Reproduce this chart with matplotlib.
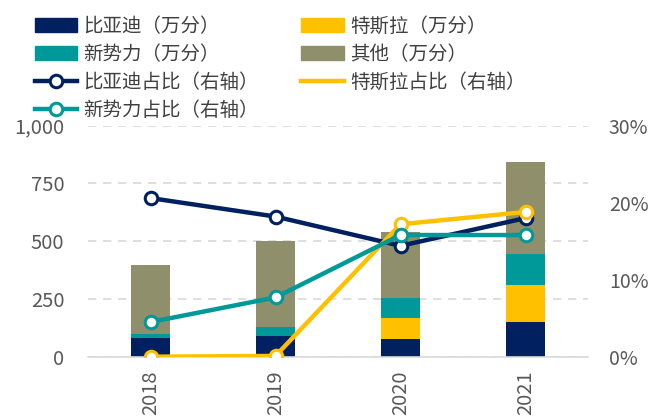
import numpy as np
import matplotlib
matplotlib.use('Agg')
import matplotlib.pyplot as plt
from matplotlib.patches import Patch
from matplotlib.lines import Line2D

plt.rcParams['font.family'] = ['Noto Sans CJK SC', 'DejaVu Sans']

# ── Data ───────────────────────────────────────────────────
years = ['2018', '2019', '2020', '2021']
byd = [80, 91, 75, 150]          # 万分
tesla = [0, 0, 92, 159]
newforce = [20, 39, 87, 134]
other = [297, 372, 286, 398]
byd_share = [20.6, 18.2, 14.4, 18.0]   # %
tesla_share = [0.0, 0.1, 17.2, 18.8]
newforce_share = [4.5, 7.7, 15.8, 15.8]

C_BYD = '#002060'
C_TSLA = '#FFC000'
C_NEW = '#009999'
C_OTH = '#8F8F6B'
TXT = '#595959'

fig = plt.figure(figsize=(6.53, 4.19), dpi=100)
ax = fig.add_axes([88 / 653, 1 - 356.7 / 419, 500 / 653, 231 / 419])
ax2 = ax.twinx()

x = np.arange(len(years))
w = 0.31
b1 = np.array(byd)
b2 = b1 + np.array(tesla)
b3 = b2 + np.array(newforce)
ax.bar(x, byd, w, color=C_BYD, zorder=2)
ax.bar(x, tesla, w, bottom=b1, color=C_TSLA, zorder=2)
ax.bar(x, newforce, w, bottom=b2, color=C_NEW, zorder=2)
ax.bar(x, other, w, bottom=b3, color=C_OTH, zorder=2)

mk = dict(marker='o', markersize=9, markerfacecolor='white', markeredgewidth=2.2, linewidth=3.2)
ax2.plot(x, byd_share, color=C_BYD, markeredgecolor=C_BYD, **mk)
ax2.plot(x, tesla_share, color=C_TSLA, markeredgecolor=C_TSLA, **mk)
ax2.plot(x, newforce_share, color=C_NEW, markeredgecolor=C_NEW, **mk)

ax.set_xlim(-0.5, 3.5)
ax.set_ylim(0, 1000)
ax2.set_ylim(0, 30)
ax.set_yticks([0, 250, 500, 750, 1000])
ax.set_yticklabels(['0', '250', '500', '750', '1,000'])
ax2.set_yticks([0, 10, 20, 30])
ax2.set_yticklabels(['0%', '10%', '20%', '30%'])
ax.set_xticks(x)
ax.set_xticklabels(years, rotation=90)

ax.grid(axis='y', color='#D9D9D9', linestyle=(0, (5, 4)), linewidth=1.2, zorder=0)
ax.set_axisbelow(True)
for a in (ax, ax2):
    for s in a.spines.values():
        s.set_visible(False)
    a.tick_params(length=0, labelsize=14.5, colors=TXT)
ax.spines['bottom'].set_visible(True)
ax.spines['bottom'].set_color('#D9D9D9')
ax.spines['bottom'].set_linewidth(1.2)
ax.tick_params(axis='y', pad=17)
ax.tick_params(axis='x', pad=10)
ax2.tick_params(axis='y', pad=15, labelsize=14)

handles = [
    Patch(color=C_BYD, label='比亚迪（万分）'),
    Patch(color=C_NEW, label='新势力（万分）'),
    Line2D([], [], color=C_BYD, markeredgecolor=C_BYD, label='比亚迪占比（右轴）', **mk),
    Line2D([], [], color=C_NEW, markeredgecolor=C_NEW, label='新势力占比（右轴）', **mk),
    Patch(color=C_TSLA, label='特斯拉（万分）'),
    Patch(color=C_OTH, label='其他（万分）'),
    Line2D([], [], color=C_TSLA, linewidth=3.2, label='特斯拉占比（右轴）'),
]
fig.legend(handles=handles, ncol=2, loc='upper left', bbox_to_anchor=(0.035, 0.99),
           frameon=False, fontsize=14, labelcolor='#404040', handlelength=2.2,
           handleheight=0.75, handletextpad=0.3, labelspacing=0.36, columnspacing=2.2,
           borderaxespad=0.2)

fig.savefig('out.png', dpi=100)
